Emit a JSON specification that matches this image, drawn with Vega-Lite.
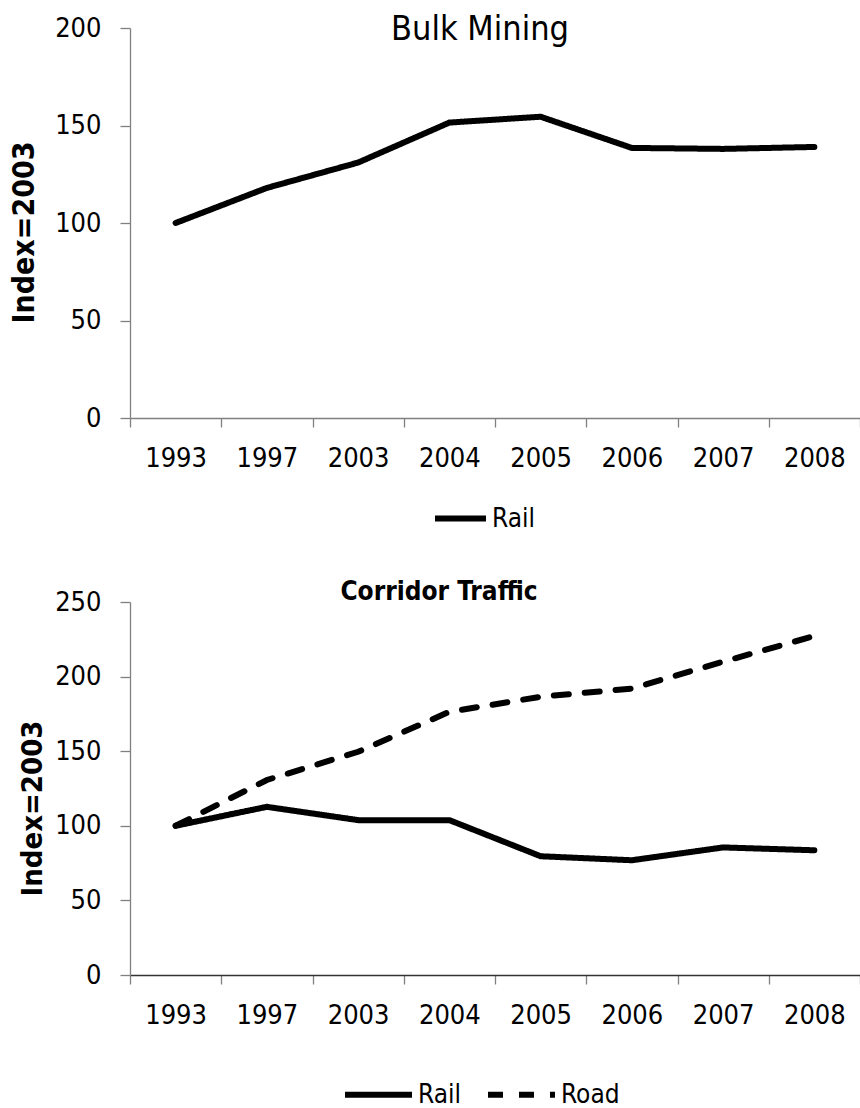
{
  "$schema": "https://vega.github.io/schema/vega-lite/v6.json",
  "padding": {"left": 9, "top": 13, "right": 0, "bottom": 0},
  "background": "white",
  "bounds": "flush",
  "spacing": 184,
  "resolve": {"scale": {"strokeDash": "independent"}, "legend": {"strokeDash": "independent"}},
  "config": {
    "view": {"stroke": null},
    "font": "DejaVu Sans Condensed",
    "axis": {"labelFont": "DejaVu Sans Condensed", "labelColor": "black", "titleColor": "black", "grid": false},
    "legend": {"labelFont": "DejaVu Sans Condensed", "labelColor": "black"}
  },
  "datasets": {
    "bulk": [
      {"year": "1993", "series": "Rail", "value": 100},
      {"year": "1997", "series": "Rail", "value": 118},
      {"year": "2003", "series": "Rail", "value": 131},
      {"year": "2004", "series": "Rail", "value": 151.5},
      {"year": "2005", "series": "Rail", "value": 154.5},
      {"year": "2006", "series": "Rail", "value": 138.5},
      {"year": "2007", "series": "Rail", "value": 138},
      {"year": "2008", "series": "Rail", "value": 139}
    ],
    "corridor": [
      {"year": "1993", "series": "Rail", "value": 100},
      {"year": "1997", "series": "Rail", "value": 112.7},
      {"year": "2003", "series": "Rail", "value": 103.8},
      {"year": "2004", "series": "Rail", "value": 103.8},
      {"year": "2005", "series": "Rail", "value": 79.6},
      {"year": "2006", "series": "Rail", "value": 76.9},
      {"year": "2007", "series": "Rail", "value": 85.5},
      {"year": "2008", "series": "Rail", "value": 83.6},
      {"year": "1993", "series": "Road", "value": 100},
      {"year": "1997", "series": "Road", "value": 130.7},
      {"year": "2003", "series": "Road", "value": 149.6},
      {"year": "2004", "series": "Road", "value": 176.4},
      {"year": "2005", "series": "Road", "value": 186.5},
      {"year": "2006", "series": "Road", "value": 192},
      {"year": "2007", "series": "Road", "value": 210},
      {"year": "2008", "series": "Road", "value": 227.2}
    ]
  },
  "vconcat": [
    {
      "width": 730,
      "height": 390,
      "title": {"text": "Bulk Mining", "fontSize": 34, "fontWeight": "normal", "anchor": "middle", "baseline": "alphabetic", "offset": -10, "dy": 50, "dx": -15, "color": "black", "font": "DejaVu Sans Condensed"},
      "data": {"name": "bulk"},
      "mark": {"type": "line", "strokeWidth": 6, "strokeCap": "round", "strokeJoin": "miter", "color": "black"},
      "encoding": {
        "x": {"field": "year", "type": "ordinal", "scale": {"type": "band", "paddingInner": 0, "paddingOuter": 0},
          "axis": {"title": null, "labelAngle": 0, "labelFontSize": 27, "labelPadding": 18, "tickBand": "extent", "tickSize": 9, "tickColor": "#808080", "domainColor": "#808080", "tickWidth": 1.3, "domainWidth": 1.3}},
        "y": {"field": "value", "type": "quantitative", "scale": {"domain": [0, 200], "nice": false, "zero": true},
          "axis": {"title": "Index=2003", "titleFontSize": 30, "titleFontWeight": "bold", "titleFont": "DejaVu Sans Condensed", "titlePadding": 15, "titleY": 204, "values": [0, 50, 100, 150, 200], "labelFontSize": 27, "labelPadding": 19, "tickSize": 10, "tickColor": "#808080", "domainColor": "#808080", "tickWidth": 1.3, "domainWidth": 1.3}},
        "strokeDash": {"field": "series", "type": "nominal", "scale": {"domain": ["Rail"], "range": [[1, 0]]},
          "legend": {"title": null, "orient": "none", "legendX": 302, "legendY": 462, "symbolSize": 2601, "symbolStrokeWidth": 6, "symbolStrokeColor": "black", "symbolType": "stroke", "labelFontSize": 26, "labelOffset": 3}}
      }
    },
    {
      "width": 730,
      "height": 373,
      "title": {"text": "Corridor Traffic", "fontSize": 26, "fontWeight": "bold", "anchor": "middle", "baseline": "alphabetic", "offset": 4, "dy": 42, "dx": -56, "color": "black", "font": "DejaVu Sans Condensed"},
      "data": {"name": "corridor"},
      "mark": {"type": "line", "strokeWidth": 6, "strokeCap": "round", "strokeJoin": "miter", "color": "black"},
      "encoding": {
        "x": {"field": "year", "type": "ordinal", "scale": {"type": "band", "paddingInner": 0, "paddingOuter": 0},
          "axis": {"title": null, "labelAngle": 0, "labelFontSize": 27, "labelPadding": 18, "tickBand": "extent", "tickSize": 9, "tickColor": "#808080", "domainColor": "#333333", "tickWidth": 1.3, "domainWidth": 1.3}},
        "y": {"field": "value", "type": "quantitative", "scale": {"domain": [0, 250], "nice": false, "zero": true},
          "axis": {"title": "Index=2003", "titleFontSize": 29, "titleFontWeight": "bold", "titleFont": "DejaVu Sans Condensed", "titlePadding": 7, "titleY": 206, "values": [0, 50, 100, 150, 200, 250], "labelFontSize": 27, "labelPadding": 19, "tickSize": 10, "tickColor": "#808080", "domainColor": "#808080", "tickWidth": 1.3, "domainWidth": 1.3}},
        "strokeDash": {"field": "series", "type": "nominal", "scale": {"domain": ["Rail", "Road"], "range": [[1, 0], [15, 16]]},
          "legend": {"title": null, "orient": "none", "direction": "horizontal", "legendX": 212, "legendY": 456, "symbolSize": 4489, "symbolStrokeWidth": 6, "symbolStrokeColor": "black", "symbolType": "stroke", "labelFontSize": 26, "labelOffset": 3, "columnPadding": 14}}
      }
    }
  ]
}
